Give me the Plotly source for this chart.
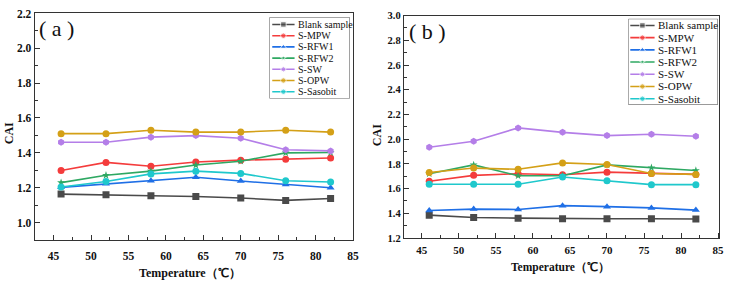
import plotly.graph_objects as go

W, H = 732, 283

temps = [46, 52, 58, 64, 70, 76, 82]
series_names = ["Blank sample", "S-MPW", "S-RFW1", "S-RFW2", "S-SW", "S-OPW", "S-Sasobit"]

# Panel (a)
a_blank = [1.163, 1.160, 1.154, 1.149, 1.141, 1.127, 1.138]
a_mpw = [1.299, 1.345, 1.323, 1.347, 1.358, 1.363, 1.370]
a_rfw1 = [1.202, 1.222, 1.240, 1.260, 1.238, 1.218, 1.200]
a_rfw2 = [1.229, 1.271, 1.295, 1.330, 1.352, 1.400, 1.402]
a_sw = [1.461, 1.461, 1.490, 1.499, 1.484, 1.418, 1.411]
a_opw = [1.510, 1.510, 1.530, 1.519, 1.519, 1.530, 1.519]
a_sasobit = [1.204, 1.235, 1.279, 1.295, 1.282, 1.240, 1.233]

# Panel (b)
b_blank = [1.385, 1.366, 1.361, 1.356, 1.356, 1.356, 1.354]
b_mpw = [1.660, 1.707, 1.720, 1.712, 1.733, 1.722, 1.715]
b_rfw1 = [1.423, 1.434, 1.431, 1.462, 1.454, 1.444, 1.426]
b_rfw2 = [1.720, 1.792, 1.704, 1.704, 1.792, 1.769, 1.746]
b_sw = [1.934, 1.983, 2.091, 2.055, 2.029, 2.040, 2.024]
b_opw = [1.730, 1.766, 1.756, 1.808, 1.795, 1.722, 1.715]
b_sasobit = [1.635, 1.635, 1.635, 1.694, 1.663, 1.632, 1.632]

x_ticks = [45, 50, 55, 60, 65, 70, 75, 80, 85]

colors = ["#4a4a4a", "#f43c3c", "#1f6fe6", "#2ea862", "#b47ee8", "#d4a017", "#1fc8cc"]
symbols = ["square", "circle", "triangle-up", "star", "hexagon", "circle", "circle"]
msizes = [7, 7, 7, 6, 7, 7, 7]

a_data = [a_blank, a_mpw, a_rfw1, a_rfw2, a_sw, a_opw, a_sasobit]
b_data = [b_blank, b_mpw, b_rfw1, b_rfw2, b_sw, b_opw, b_sasobit]

FONT = "Liberation Serif"
AX = "#333333"


def px(x):
    return x / W


def py(y):
    return 1 - y / H


fig = go.Figure()

for data, xa, ya in [(a_data, "x", "y"), (b_data, "x2", "y2")]:
    for i, vals in enumerate(data):
        fig.add_trace(go.Scatter(
            x=temps, y=vals, mode="lines+markers", name=series_names[i],
            line=dict(color=colors[i], width=1.6),
            marker=dict(symbol=symbols[i], size=msizes[i], color=colors[i]),
            xaxis=xa, yaxis=ya, showlegend=False))

# manual legends drawn on overlay axes (pixel units)
legends = [
    dict(xa="x3", ya="y3", box=(271.7, 352.7, 11.7, 96.7), y0=19.3, dy=11.7,
         l0=274.5, l1=297, tx=298.5, fs=10),
    dict(xa="x4", ya="y4", box=(633.7, 723.7, 13.3, 103.3), y0=20.3, dy=12.75,
         l0=635.5, l1=660, tx=661.5, fs=11),
]
annotations = []
shapes = []
for lg in legends:
    x0, x1, y0, y1 = lg["box"]
    for i, nm in enumerate(series_names):
        ry = lg["y0"] + i * lg["dy"]
        xm = (lg["l0"] + lg["l1"]) / 2
        fig.add_trace(go.Scatter(
            x=[lg["l0"], xm, lg["l1"]], y=[ry, ry, ry], mode="lines+markers",
            line=dict(color=colors[i], width=1.6),
            marker=dict(symbol=symbols[i], size=[0, msizes[i] - 1.5, 0], color=colors[i]),
            xaxis=lg["xa"], yaxis=lg["ya"], showlegend=False, hoverinfo="skip"))
        annotations.append(dict(
            x=lg["tx"], y=ry, xref=lg["xa"], yref=lg["ya"], text=nm, showarrow=False,
            xanchor="left", yanchor="middle", font=dict(family=FONT, size=lg["fs"], color="#111")))
    shapes.append(dict(type="rect", xref=lg["xa"], yref=lg["ya"], x0=x0, x1=x1, y0=y0, y1=y1,
                       line=dict(color="#555", width=1), fillcolor="rgba(0,0,0,0)"))

common_x = dict(tickmode="array", tickvals=x_ticks, ticks="inside", ticklen=5, tickwidth=1,
                tickcolor=AX, showline=True, linecolor=AX, linewidth=1.3, mirror=True,
                showgrid=False, zeroline=False,
                minor=dict(ticks="inside", ticklen=3, dtick=2.5, tick0=42.5, tickcolor=AX, showgrid=False))
common_y = dict(ticks="inside", ticklen=5, tickwidth=1, tickcolor=AX, showline=True,
                linecolor=AX, linewidth=1.3, mirror=True, showgrid=False, zeroline=False,
                dtick=0.2, tickformat=".1f",
                minor=dict(ticks="inside", ticklen=3, dtick=0.1, tickcolor=AX, showgrid=False))

hidden = dict(visible=False, showgrid=False, zeroline=False, fixedrange=True)

fig.update_layout(
    width=W, height=H, margin=dict(l=0, r=0, t=0, b=0),
    paper_bgcolor="white", plot_bgcolor="white", showlegend=False,
    font=dict(family=FONT),
    xaxis=dict(domain=[px(35), px(356.3)], range=[42.48, 85.04], anchor="y", ticklabelstandoff=5,
               tickfont=dict(family=FONT, size=11.5, color="#111", weight="bold"), **common_x),
    yaxis=dict(domain=[py(244.3), py(7.8)], range=[0.9, 2.2], anchor="x", tick0=1.0,
               tickfont=dict(family=FONT, size=11.5, color="#111", weight="bold"), **common_y),
    xaxis2=dict(domain=[px(407.3), px(725.3)], range=[42.59, 85.17], anchor="y2", ticklabelstandoff=2,
                tickfont=dict(family=FONT, size=11, color="#111", weight="bold"), **common_x),
    yaxis2=dict(domain=[py(242.3), py(10)], range=[1.2, 3.0], anchor="x2", tick0=1.2,
                tickfont=dict(family=FONT, size=10.5, color="#111", weight="bold"), **common_y),
    xaxis3=dict(domain=[px(271.7), px(352.7)], range=[271.7, 352.7], anchor="y3", **hidden),
    yaxis3=dict(domain=[py(96.7), py(11.7)], range=[96.7, 11.7], anchor="x3", **hidden),
    xaxis4=dict(domain=[px(633.7), px(723.7)], range=[633.7, 723.7], anchor="y4", **hidden),
    yaxis4=dict(domain=[py(103.3), py(13.3)], range=[103.3, 13.3], anchor="x4", **hidden),
)

annotations += [
    dict(x=57, y=23, xref="paper", yref="paper", text="( a )"),
    dict(x=431, y=26.5, xref="paper", yref="paper", text="( b )"),
]
for an in annotations[-2:]:
    an["x"] = px(an["x"])
    an["y"] = py(an["y"])
    an.update(showarrow=False, xanchor="center", yanchor="middle",
              font=dict(family=FONT, size=22, color="#111"))

titles = [
    dict(x=9, y=133, text="<b>CAI</b>", textangle=-90, size=12),
    dict(x=380, y=135, text="<b>CAI</b>", textangle=-90, size=12),
    dict(x=192, y=278.5, text="<b>Temperature（℃）</b>", textangle=0, size=12),
    dict(x=565, y=273, text="<b>Temperature（℃）</b>", textangle=0, size=11.5),
]
for t in titles:
    annotations.append(dict(x=px(t["x"]), y=py(t["y"]), xref="paper", yref="paper",
                            text=t["text"], textangle=t["textangle"], showarrow=False,
                            xanchor="center", yanchor="middle",
                            font=dict(family=FONT, size=t["size"], color="#111")))

fig.update_layout(annotations=annotations, shapes=shapes)
fig.write_html("out.html")
